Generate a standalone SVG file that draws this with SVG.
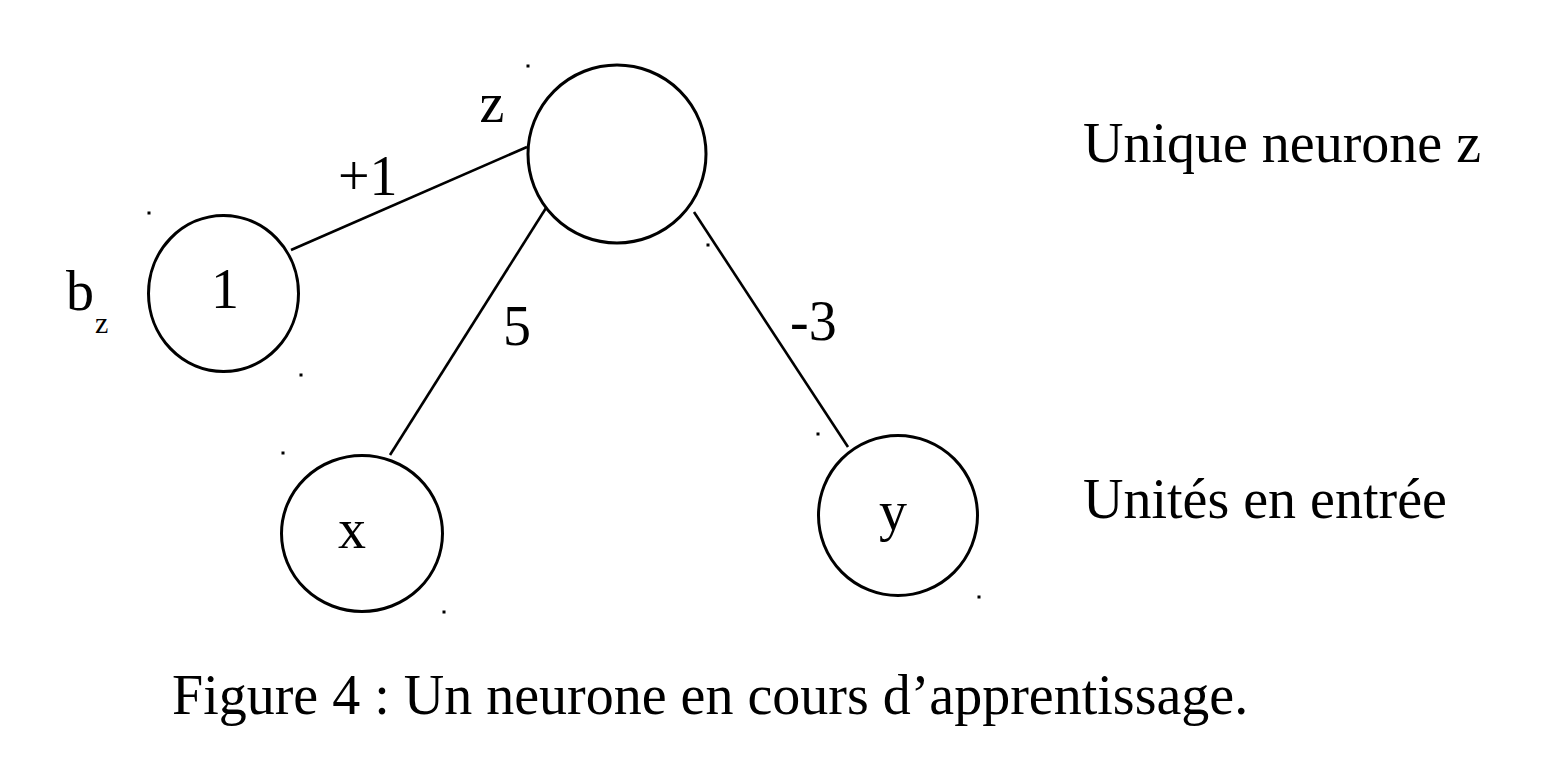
<svg xmlns="http://www.w3.org/2000/svg" width="1546" height="776" viewBox="0 0 1546 776">
<style>
.node{fill:none;stroke:#000;stroke-width:3}
.edge{stroke:#000;stroke-width:2.6;fill:none}
.t{font-family:"Liberation Serif","Times New Roman",serif;font-size:56px;fill:#000}
.sub{font-size:30px}
.dot{fill:#000}
</style>
<rect width="1546" height="776" fill="#fff"/>
<g id="connectors">
<line class="edge" x1="291" y1="250" x2="527" y2="147"/>
<line class="edge" x1="546" y1="208" x2="390" y2="455"/>
<line class="edge" x1="694" y1="212" x2="848" y2="447"/>
<text class="t" x="338" y="195">+1</text>
<text class="t" x="517" y="345" text-anchor="middle">5</text>
<text class="t" x="790" y="340">-3</text>
</g>
<g id="node-z">
<ellipse class="node" cx="617" cy="154" rx="89" ry="89"/>
<text class="t" x="492" y="122" text-anchor="middle">z</text>
<rect class="dot" x="526.5" y="64.5" width="3" height="3"/>
<rect class="dot" x="706.5" y="243.5" width="3" height="3"/>
</g>
<g id="node-bias">
<ellipse class="node" cx="223.5" cy="293.5" rx="75" ry="78"/>
<text class="t" x="225" y="308" text-anchor="middle">1</text>
<text class="t" x="66" y="310">b</text>
<text class="t sub" x="95" y="333">z</text>
<rect class="dot" x="147.5" y="211.5" width="3" height="3"/>
<rect class="dot" x="299.5" y="373.5" width="3" height="3"/>
</g>
<g id="node-x">
<ellipse class="node" cx="362" cy="533.5" rx="80.5" ry="78"/>
<text class="t" x="352" y="548" text-anchor="middle">x</text>
<rect class="dot" x="281.5" y="451.5" width="3" height="3"/>
<rect class="dot" x="442.5" y="610.5" width="3" height="3"/>
</g>
<g id="node-y">
<ellipse class="node" cx="898" cy="515.5" rx="79.5" ry="80"/>
<text class="t" x="893" y="530" text-anchor="middle">y</text>
<rect class="dot" x="816.5" y="432.5" width="3" height="3"/>
<rect class="dot" x="977.5" y="595.5" width="3" height="3"/>
</g>
<g id="labels">
<text class="t" x="1083" y="162">Unique neurone z</text>
<text class="t" x="1083" y="518">Unités en entrée</text>
<text class="t" x="172" y="714">Figure 4 : Un neurone en cours d’apprentissage.</text>
</g>
</svg>
